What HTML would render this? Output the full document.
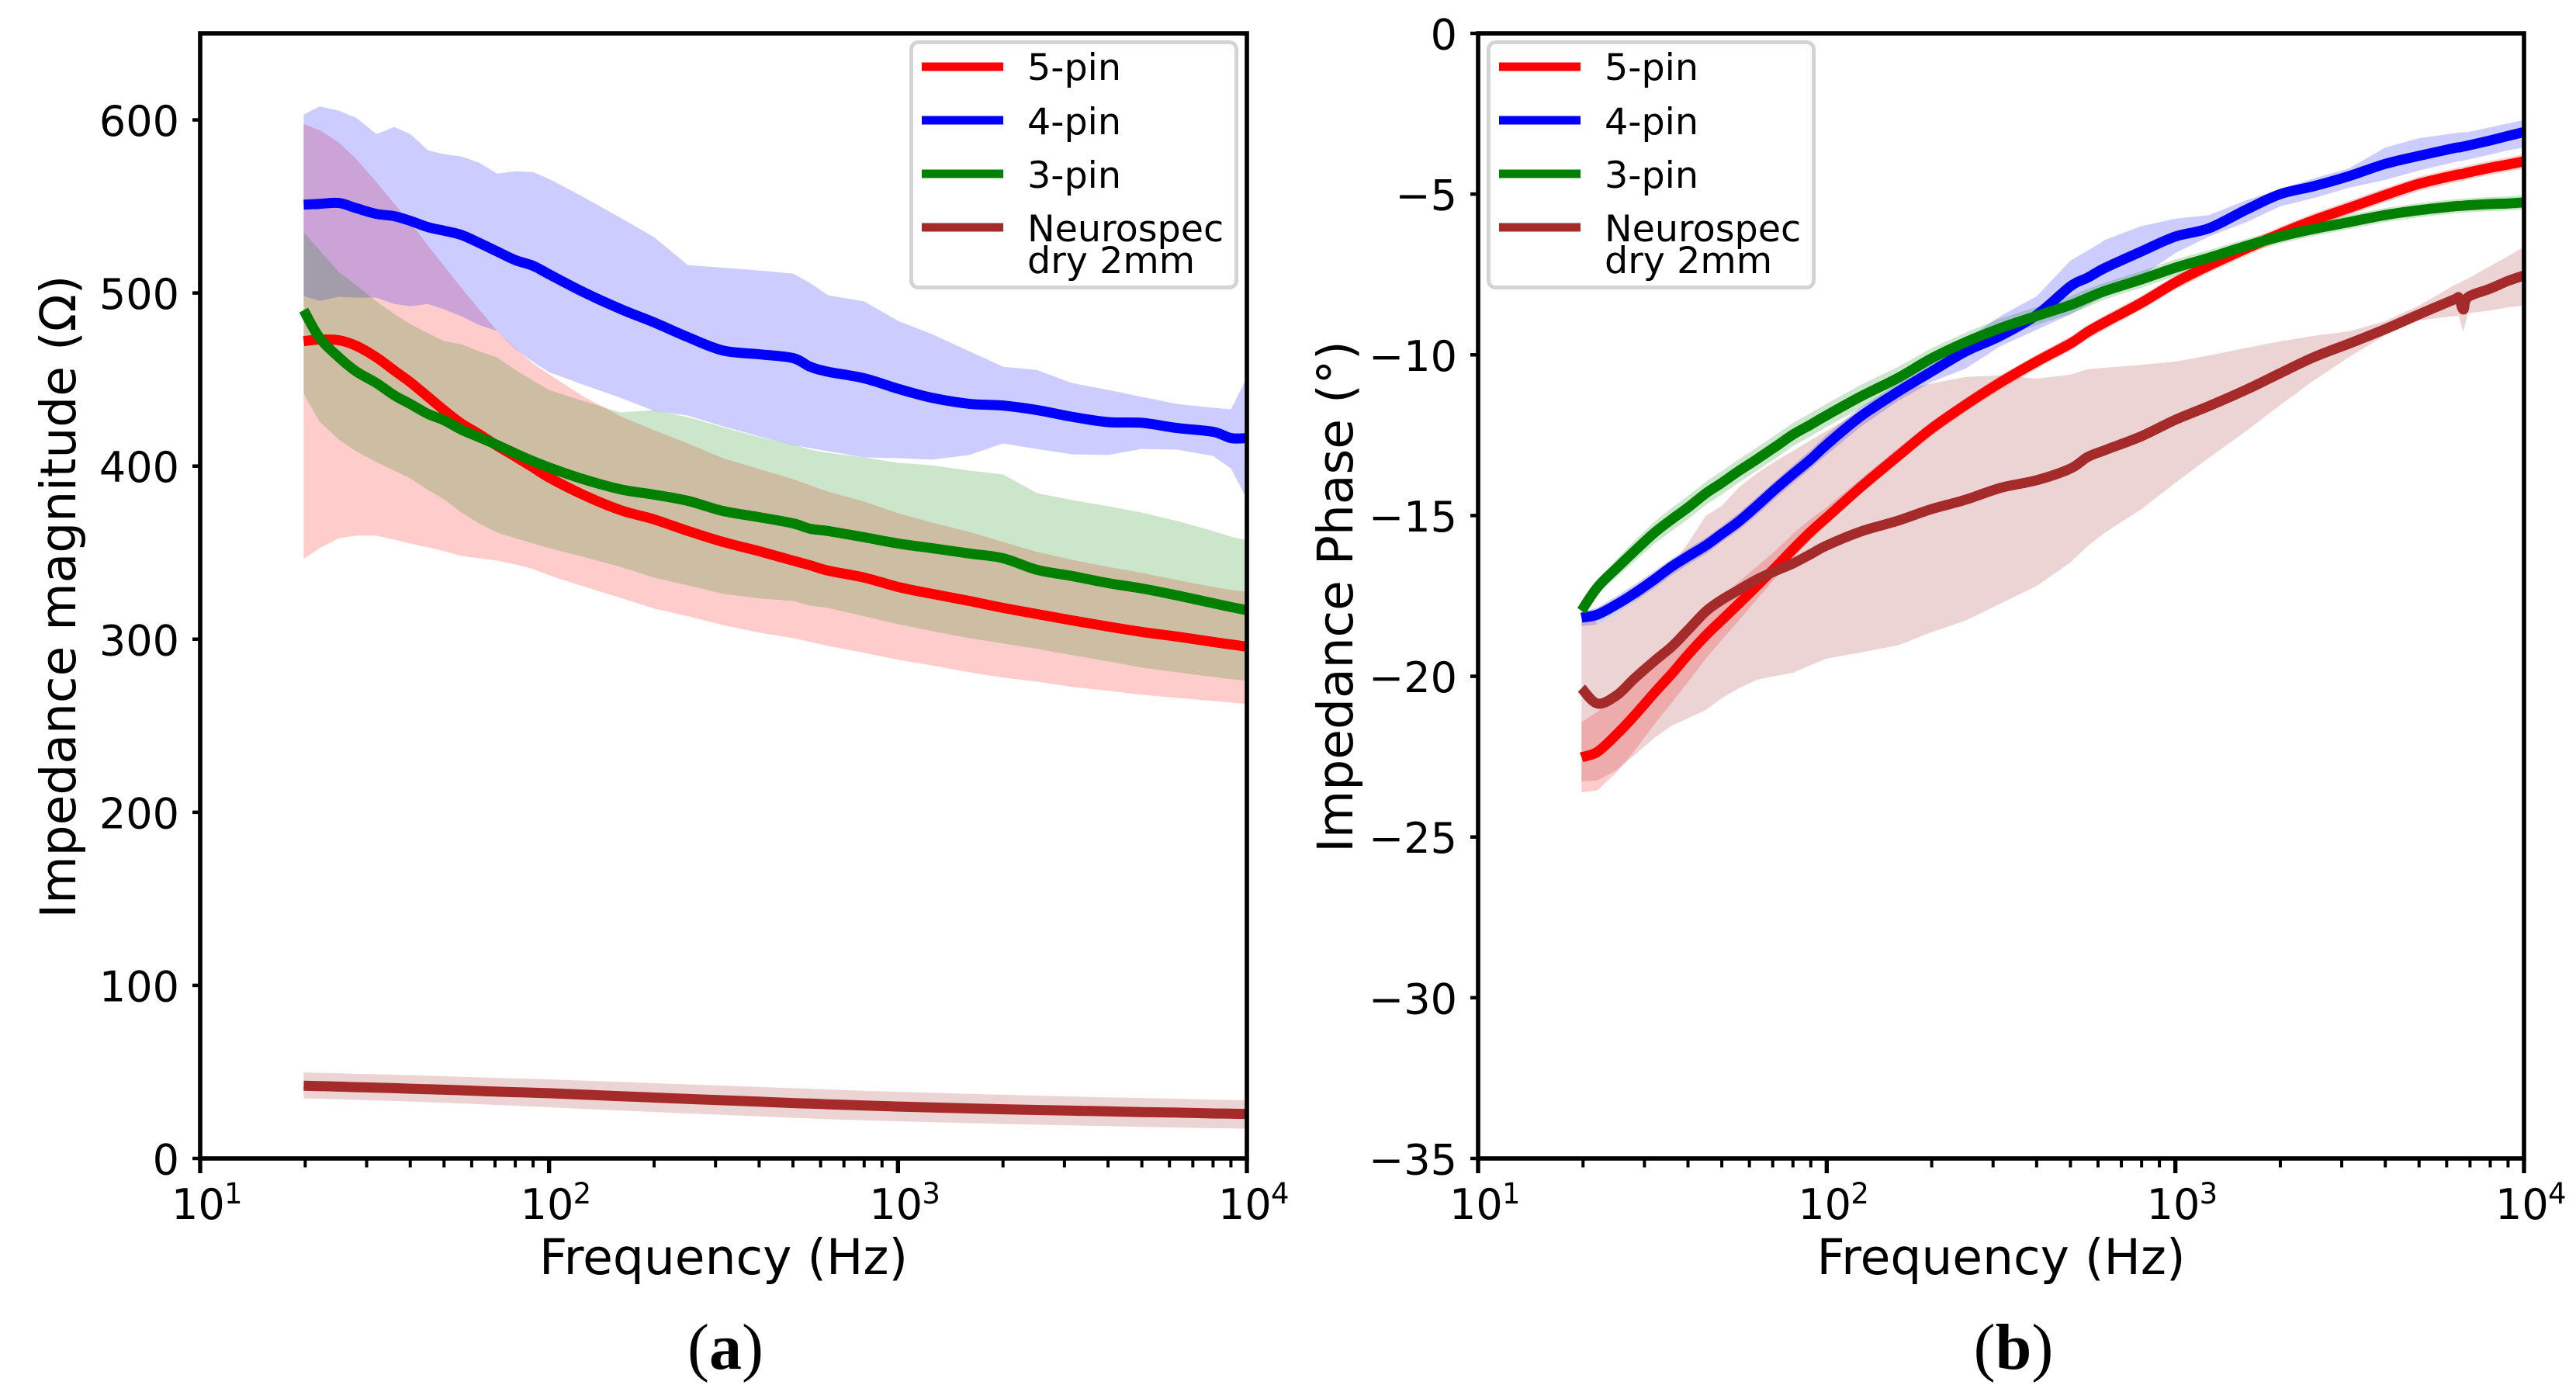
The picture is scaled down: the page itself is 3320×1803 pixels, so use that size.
<!DOCTYPE html>
<html lang="en">
<head>
<meta charset="utf-8">
<title>Impedance magnitude and phase</title>
<style>
html,body{margin:0;padding:0;background:#fff;width:3320px;height:1803px;overflow:hidden}
svg{display:block}
text{font-family:"DejaVu Sans","Liberation Sans",sans-serif;fill:#000}
.cap{font-family:"Liberation Serif","DejaVu Serif",serif}
</style>
</head>
<body>
<svg id="figure" xmlns="http://www.w3.org/2000/svg" width="3320" height="1803" viewBox="0 0 3320 1803">
  <rect x="0" y="0" width="3320" height="1803" fill="#fff"/>
  <text transform="translate(97,769) rotate(-90)" text-anchor="middle" font-size="63">Impedance magnitude (Ω)</text>
  <text x="932.5" y="1642" text-anchor="middle" font-size="63">Frequency (Hz)</text>
  <text class="cap" x="935" y="1764" text-anchor="middle" font-size="84">(<tspan font-weight="bold">a</tspan>)</text>
  <text transform="translate(1743,769) rotate(-90)" text-anchor="middle" font-size="63">Impedance Phase (°)</text>
  <text x="2579" y="1642" text-anchor="middle" font-size="63">Frequency (Hz)</text>
  <text class="cap" x="2595" y="1764" text-anchor="middle" font-size="84">(<tspan font-weight="bold">b</tspan>)</text>
</svg>
<script>
// ---------- shared axis data ----------
const xDecades = [1, 2, 3, 4];
const xMinorMultipliers = [2, 3, 4, 5, 6, 7, 8, 9];
const seriesNames = ['5-pin', '4-pin', '3-pin', 'neurospec'];
const legendLabels = ['5-pin', '4-pin', '3-pin', 'Neurospec'];
const legendSecondLine = 'dry 2mm';
const seriesColors = ['#ff0000', '#0000ff', '#008000', '#a52a2a'];

// ---------- panel (a): impedance magnitude ----------
const magTicks = [0, 100, 200, 300, 400, 500, 600];
const magFreq = [19.8,22,25,28,32,36,40,45,50,56,63,71,80,90,100,125,160,200,250,315,400,500,560,630,800,1000,1250,1600,2000,2500,3150,4000,5000,6300,8000,9000,10000];

const mag5Pin = [472.2,473.1,472.7,469.5,462.8,455.2,448.5,440,432.3,424.7,418.5,411.7,405.5,399.2,393.4,383.5,374.6,369.2,362.5,356.2,350.8,345.4,342.7,339.6,335.6,330.2,326.2,322.1,318.1,314.5,310.9,307.3,304.2,301.5,298.4,297,295.7];
const mag5PinUpper = [597.7,594.1,586.9,577.5,564.1,551.5,540.8,527.3,515.7,503.1,490.6,478,468.2,459.2,453,440.4,428.8,420.7,413.1,404.6,398.3,392.5,388.9,385.3,379.5,372.8,367.4,362,356.2,350.4,345.9,341.8,338.3,334.2,330.2,328.4,327.5];
const mag5PinLower = [346.3,352.6,358.4,359.8,359.8,357.5,355.3,353,350.8,348.1,346.8,345.4,343.2,340.5,336.9,330.6,323.9,317.7,313.2,308.2,303.8,300.6,298.4,296.1,292.1,288.1,284.9,280.9,277.8,275.5,272.4,270.2,267.9,266.1,264.3,263.4,262.5];

const mag4Pin = [551,551.5,552,549,545.7,544.4,541.7,538,536,533.6,529,524,519,515.7,510.8,500.7,490.8,483,474.5,466.8,464.6,462.4,457.4,454.5,450.7,444.7,439.5,436,435,432.4,428.5,425.4,425,422,419.8,416.2,416.2];
const mag4PinUpper = [603,607.8,605.3,601.2,591.8,595.9,591.8,582.4,580.2,578.9,575.3,569,570.3,569.9,565.9,555.6,543.5,532.3,516.1,514.6,513,511.2,505.8,498.7,495.1,483.9,476.3,466.4,457.4,455.6,448,444,440,435.9,433.7,432.8,451.2];
const mag4PinLower = [498.2,495.5,497.8,497.3,497.3,493.7,492.4,493.7,490.6,486.6,481.6,478,467.7,460.1,454.3,447.1,439.5,431.9,429.2,423,417.1,412.2,410.4,408.6,405,404.6,403.7,406.4,413.1,409.9,406.8,406.4,409.9,409.5,405.9,398.7,380.8];

const mag3Pin = [490.1,474,462.8,454.7,448,440.9,435.9,430.1,426.5,421.1,416.7,412.2,407.3,402.8,399.2,392.5,386.6,383.5,379.9,374.1,370.5,366.9,363.8,362.5,358.9,355.3,352.6,349.5,346.8,340.1,336.5,332.4,329.3,325.3,320.8,318.6,316.8];
const mag3PinUpper = [535.1,524.6,512.1,504.5,495.1,487.9,482.1,476.7,472.2,470.4,466.4,462.8,455.6,449.4,444,437.7,431,432.3,428.3,422.5,416.7,412.6,409.5,407.7,405,401.9,400.5,397.4,395.2,384.4,380.4,376.8,373.2,368.3,362.5,359.3,357.1];
const mag3PinLower = [441.8,425.6,415.3,408.6,402.3,397.4,392.9,386.2,380.8,373.2,366.9,361.6,358.4,355.3,352.6,347.7,341.8,335.6,331.1,326.2,323.5,322.1,319.4,318.1,313.2,308.7,304.7,300.6,297.5,294.4,290.8,287.2,283.6,280.9,278.2,276.9,276];

const magNeurospec = [42,41.8,41.5,41.2,40.9,40.6,40.3,40,39.7,39.4,39,38.6,38.3,38,37.7,36.9,36,35.2,34.4,33.6,32.8,32,31.7,31.3,30.6,30,29.5,28.9,28.4,28,27.6,27.2,26.8,26.5,26,25.9,25.7];
const magNeurospecUpper = [49.7,49.5,49.2,48.9,48.7,48.4,48.1,47.8,47.5,47.2,46.9,46.5,46.2,46,45.7,45,44.2,43.5,42.8,42.1,41.3,40.6,40.2,39.9,39.1,38.5,38,37.3,36.8,36.3,35.8,35.3,34.9,34.5,34,33.8,33.6];
const magNeurospecLower = [34.7,34.5,34.2,33.9,33.5,33.2,32.9,32.5,32.2,31.8,31.4,30.9,30.5,30,29.6,28.7,27.7,26.9,26,25.2,24.3,23.5,23.1,22.7,22,21.5,21,20.4,19.9,19.5,19.1,18.7,18.2,17.9,17.5,17.4,17.2];

// ---------- panel (b): impedance phase ----------
const phaseTicks = [0, -5, -10, -15, -20, -25, -30, -35];
const phaseFreq = [19.8,22,25,28,32,36,40,45,50,56,63,71,80,90,100,125,160,200,250,315,400,500,560,630,800,1000,1250,1600,2000,2500,3150,4000,5000,6300,6500,6700,6900,8000,9000,10000];

const phase5Pin = [-22.52,-22.35,-21.8,-21.24,-20.52,-19.91,-19.33,-18.73,-18.25,-17.74,-17.19,-16.63,-16.05,-15.5,-15.06,-14.12,-13.15,-12.29,-11.56,-10.86,-10.21,-9.65,-9.29,-8.98,-8.38,-7.75,-7.22,-6.69,-6.23,-5.81,-5.43,-5.03,-4.68,-4.42,-4.39,-4.37,-4.33,-4.18,-4.08,-3.98];
const phase5PinSpreadUp = [1.09,1.25,1.2,1.15,1.05,.97,.9,.82,.75,.68,.6,.52,.48,.4,.32,.26,.24,.22,.22,.22,.22,.22,.22,.22,.22,.22,.22,.22,.22,.22,.22,.22,.22,.22,.22,.22,.22,.22,.22,.22];
const phase5PinSpreadDown = [1.09,1.2,1.18,1.1,.98,.9,.85,.72,.62,.52,.42,.33,.27,.25,.23,.22,.22,.22,.22,.22,.22,.22,.22,.22,.22,.22,.22,.22,.22,.22,.22,.22,.22,.22,.22,.22,.22,.22,.22,.22];

const phase4Pin = [-18.18,-18.08,-17.76,-17.43,-16.99,-16.58,-16.27,-15.93,-15.57,-15.18,-14.7,-14.19,-13.71,-13.25,-12.79,-11.92,-11.15,-10.52,-9.9,-9.41,-8.76,-7.87,-7.6,-7.29,-6.78,-6.32,-6.06,-5.48,-5,-4.75,-4.44,-4.06,-3.81,-3.57,-3.55,-3.52,-3.49,-3.33,-3.19,-3.07];
const phase4PinUpper = [-18.01,-17.86,-17.5,-17.16,-16.73,-16.34,-16.03,-15.69,-15.33,-14.92,-14.43,-13.93,-13.44,-12.96,-12.48,-11.63,-10.89,-10.26,-9.53,-8.79,-8.18,-7.07,-6.76,-6.42,-5.99,-5.77,-5.65,-5.19,-4.85,-4.51,-4.2,-3.55,-3.26,-3.11,-3.09,-3.07,-3.07,-2.92,-2.8,-2.7];
const phase4PinLower = [-18.44,-18.39,-18.03,-17.69,-17.26,-16.85,-16.53,-16.2,-15.83,-15.45,-14.99,-14.48,-14,-13.54,-13.11,-12.24,-11.44,-10.84,-10.43,-9.73,-9.22,-8.74,-8.45,-8.16,-7.55,-6.83,-6.32,-5.87,-5.38,-5.12,-4.8,-4.56,-4.27,-4.01,-3.98,-3.96,-3.93,-3.77,-3.64,-3.55];

const phase3Pin = [-17.96,-17.23,-16.63,-16.12,-15.54,-15.11,-14.75,-14.31,-13.98,-13.61,-13.25,-12.87,-12.48,-12.17,-11.88,-11.3,-10.72,-10.11,-9.61,-9.17,-8.79,-8.45,-8.23,-8.01,-7.65,-7.29,-6.98,-6.61,-6.32,-6.08,-5.87,-5.65,-5.5,-5.38,-5.37,-5.36,-5.35,-5.31,-5.29,-5.26];
const phase3PinSpread = [.12,.2,.28,.32,.34,.36,.36,.36,.36,.36,.36,.36,.36,.36,.36,.36,.34,.32,.3,.3,.28,.28,.28,.26,.26,.26,.24,.22,.22,.22,.22,.22,.22,.22,.22,.22,.22,.22,.22,.22];

const phaseNeurospec = [-20.37,-20.85,-20.59,-20.08,-19.53,-19.07,-18.56,-17.98,-17.62,-17.31,-16.99,-16.73,-16.49,-16.2,-15.93,-15.5,-15.16,-14.8,-14.51,-14.14,-13.9,-13.54,-13.18,-12.96,-12.53,-12.02,-11.59,-11.08,-10.57,-10.07,-9.65,-9.2,-8.74,-8.28,-8.23,-8.59,-8.21,-7.94,-7.7,-7.53];
const phaseNeurospecUpper = [-17.6,-18.39,-18.03,-17.67,-17.07,-16.51,-15.86,-15.01,-14.7,-14.12,-13.69,-13.32,-12.99,-12.65,-12.36,-11.75,-11.1,-10.89,-10.69,-10.64,-10.74,-10.62,-10.45,-10.4,-10.31,-10.21,-10.02,-9.78,-9.58,-9.41,-9.27,-8.95,-8.47,-7.84,-7.77,-7.7,-7.63,-7.24,-6.93,-6.64];
const phaseNeurospecLower = [-23.27,-23.24,-22.91,-22.47,-21.92,-21.53,-21.31,-21.05,-20.68,-20.37,-20.11,-19.99,-19.89,-19.65,-19.45,-19.26,-19.04,-18.63,-18.27,-17.74,-17.19,-16.46,-15.95,-15.52,-14.8,-13.98,-13.2,-12.36,-11.56,-10.79,-10.07,-9.39,-8.93,-8.79,-8.79,-9.29,-8.71,-8.62,-8.52,-8.47];

// ---------- drawing ----------
const NS = 'http://www.w3.org/2000/svg';
const figure = document.getElementById('figure');

function el(parent, tag, attrs, text) {
  const node = document.createElementNS(NS, tag);
  Object.keys(attrs).forEach(function (k) { node.setAttribute(k, attrs[k]); });
  if (text !== undefined) node.textContent = text;
  parent.appendChild(node);
  return node;
}

function makeXScale(left, right) {
  return function (f) { return left + (Math.log10(f) - 1) / 3 * (right - left); };
}
function makeYScale(vMin, vMax, bottom, top) {
  return function (v) { return bottom - (v - vMin) / (vMax - vMin) * (bottom - top); };
}
function addOffset(values, offsets, sign) {
  return values.map(function (v, i) { return v + sign * offsets[i]; });
}
// Smooth curve through the scaled data points (Catmull-Rom to cubic Bezier).
function smoothPath(p) {
  let d = 'M' + p[0][0].toFixed(1) + ' ' + p[0][1].toFixed(1);
  for (let i = 0; i < p.length - 1; i++) {
    const a = p[Math.max(i - 1, 0)], b = p[i], c = p[i + 1], e = p[Math.min(i + 2, p.length - 1)];
    const c1x = b[0] + (c[0] - a[0]) / 6, c1y = b[1] + (c[1] - a[1]) / 6;
    const c2x = c[0] - (e[0] - b[0]) / 6, c2y = c[1] - (e[1] - b[1]) / 6;
    d += 'C' + c1x.toFixed(1) + ' ' + c1y.toFixed(1) + ' ' + c2x.toFixed(1) + ' ' + c2y.toFixed(1) + ' ' + c[0].toFixed(1) + ' ' + c[1].toFixed(1);
  }
  return d;
}

function drawPanel(cfg) {
  const x = makeXScale(cfg.left, cfg.right);
  const y = makeYScale(cfg.vMin, cfg.vMax, cfg.bottom, cfg.top);

  const group = el(figure, 'g', {});
  
  

  const defs = el(group, 'defs', {});
  const clip = el(defs, 'clipPath', { id: cfg.id + '-clip' });
  el(clip, 'rect', { x: cfg.left, y: cfg.top, width: cfg.right - cfg.left, height: cfg.bottom - cfg.top });

  const marks = el(group, 'g', { 'clip-path': 'url(#' + cfg.id + '-clip)' });
  
  

  cfg.series.forEach(function (s, idx) {
    const upperPts = cfg.freq.map(function (f, i) { return x(f).toFixed(1) + ',' + y(s.upper[i]).toFixed(1); });
    const lowerPts = cfg.freq.map(function (f, i) { return x(f).toFixed(1) + ',' + y(s.lower[i]).toFixed(1); }).reverse();
    const band = el(marks, 'polygon', { points: upperPts.concat(lowerPts).join(' '), fill: seriesColors[idx], 'fill-opacity': 0.2, stroke: 'none' });
    
    
  });
  cfg.series.forEach(function (s, idx) {
    const pts = cfg.freq.map(function (f, i) { return [x(f), y(s.mean[i])]; });
    const line = el(marks, 'path', { d: smoothPath(pts), fill: 'none', stroke: seriesColors[idx], 'stroke-width': 13, 'stroke-linejoin': 'round', 'stroke-linecap': 'butt' });
    
    
  });

  // spines
  const frame = el(group, 'rect', { x: cfg.left, y: cfg.top, width: cfg.right - cfg.left, height: cfg.bottom - cfg.top, fill: 'none', stroke: '#000', 'stroke-width': 5.6 });
  
  

  // y ticks
  cfg.yTicks.forEach(function (v) {
    const tick = el(group, 'line', { x1: cfg.left - 10, x2: cfg.left, y1: y(v), y2: y(v), stroke: '#000', 'stroke-width': 4.5 });
    
    
    const label = el(group, 'text', { x: cfg.left - 27, y: y(v) + 20.5, 'text-anchor': 'end', 'font-size': 54 }, String(v).replace('-', '\u2212'));
    
    
  });

  // x ticks
  xDecades.forEach(function (d) {
    const f = Math.pow(10, d);
    const tick = el(group, 'line', { x1: x(f), x2: x(f), y1: cfg.bottom, y2: cfg.bottom + 19, stroke: '#000', 'stroke-width': 5.4 });
    
    
    const base = el(group, 'text', { x: x(f) - 37, y: 1571, 'font-size': 54 }, '10');
    
    
    const exp = el(group, 'text', { x: x(f) + 31, y: 1551, 'font-size': 37 }, String(d));
    
    
    if (d < 4) {
      xMinorMultipliers.forEach(function (m) {
        const minor = el(group, 'line', { x1: x(m * f), x2: x(m * f), y1: cfg.bottom, y2: cfg.bottom + 11.5, stroke: '#000', 'stroke-width': 4 });
        
        
      });
    }
  });

  // legend
  const lx = cfg.legendX;
  const legend = el(group, 'g', {});
  
  
  const box = el(legend, 'rect', { x: lx, y: 54.5, width: 419, height: 316, rx: 9, ry: 9, fill: '#fff', 'fill-opacity': 0.8, stroke: '#d4d4d4', 'stroke-width': 5 });
  
  
  const swatchYs = [86, 155, 224, 293];
  const textYs = [103, 173, 242, 311];
  legendLabels.forEach(function (name, i) {
    const swatch = el(legend, 'rect', { x: lx + 13.5, y: swatchYs[i] - 5.5, width: 105, height: 11, fill: seriesColors[i] });
    
    
    const entry = el(legend, 'text', { x: lx + 149.5, y: textYs[i], 'font-size': 47.6 }, name);
    
    
  });
  const second = el(legend, 'text', { x: lx + 149.5, y: 352, 'font-size': 47.6 }, legendSecondLine);
  
  
}

drawPanel({
  id: 'magnitude',
  left: 258, right: 1607, top: 43, bottom: 1493,
  vMin: 0, vMax: 650,
  yTicks: magTicks,
  freq: magFreq,
  legendX: 1174.5,
  series: [
    { mean: mag5Pin, upper: mag5PinUpper, lower: mag5PinLower },
    { mean: mag4Pin, upper: mag4PinUpper, lower: mag4PinLower },
    { mean: mag3Pin, upper: mag3PinUpper, lower: mag3PinLower },
    { mean: magNeurospec, upper: magNeurospecUpper, lower: magNeurospecLower }
  ]
});

drawPanel({
  id: 'phase',
  left: 1905, right: 3253, top: 43, bottom: 1493,
  vMin: -35, vMax: 0,
  yTicks: phaseTicks,
  freq: phaseFreq,
  legendX: 1918.5,
  series: [
    { mean: phase5Pin, upper: addOffset(phase5Pin, phase5PinSpreadUp, 1), lower: addOffset(phase5Pin, phase5PinSpreadDown, -1) },
    { mean: phase4Pin, upper: phase4PinUpper, lower: phase4PinLower },
    { mean: phase3Pin, upper: addOffset(phase3Pin, phase3PinSpread, 1), lower: addOffset(phase3Pin, phase3PinSpread, -1) },
    { mean: phaseNeurospec, upper: phaseNeurospecUpper, lower: phaseNeurospecLower }
  ]
});
</script>
</body>
</html>
